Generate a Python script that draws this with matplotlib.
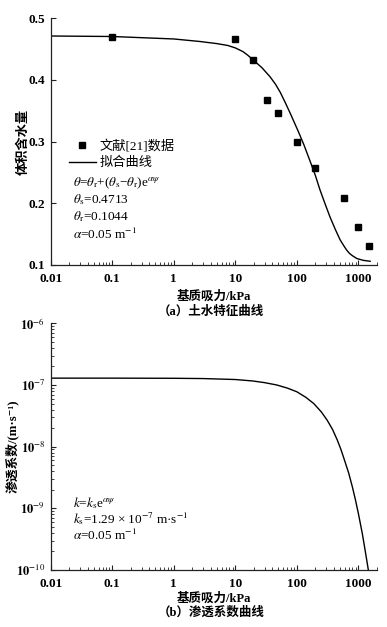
import matplotlib

matplotlib.use("Agg")
import matplotlib.pyplot as plt  # noqa: E402
from matplotlib.ticker import FixedLocator, LogLocator, NullFormatter, NullLocator  # noqa: E402

plt.rcParams["mathtext.fontset"] = "stix"

# (a) soil-water characteristic curve: measured points from ref [21]
suction_meas = [0.1, 10, 19.5, 33, 50, 100, 197, 590, 1000, 1500]
theta_meas = [0.469, 0.466, 0.432, 0.368, 0.347, 0.300, 0.257, 0.209, 0.161, 0.130]

# fitted curve
suction_fit = [0.01, 0.1, 1, 2.6, 5, 7.5, 10, 13.3, 16, 19.7, 27, 36.8, 45, 53.7, 65,
               78, 90, 105, 130, 163, 200, 237, 290, 345, 420, 503, 580, 646, 720,
               800, 941, 1200, 1550]
theta_fit = [0.4713, 0.4705, 0.4665, 0.4625, 0.459, 0.456, 0.452, 0.446, 0.440,
             0.432, 0.420, 0.405, 0.393, 0.380, 0.363, 0.346, 0.332, 0.317, 0.295,
             0.269, 0.245, 0.222, 0.198, 0.178, 0.158, 0.141, 0.131, 0.124, 0.1185,
             0.115, 0.1105, 0.1075, 0.1060]

# (b) permeability curve
suction_k = [0.01, 0.1, 1, 3, 10, 19.3, 30, 47, 70, 100, 140, 188, 250, 311, 380, 452,
             520, 577, 640, 697, 800, 898, 1000, 1157, 1300, 1450]
perm_k = [1.29e-7, 1.29e-7, 1.283e-7, 1.27e-7, 1.225e-7, 1.16e-7, 1.09e-7, 1.0e-7,
          8.9e-8, 7.75e-8, 6.3e-8, 5.0e-8, 3.65e-8, 2.68e-8, 1.9e-8, 1.29e-8, 9.0e-9,
          6.6e-9, 4.8e-9, 3.7e-9, 2.2e-9, 1.35e-9, 8.2e-10, 3.9e-10, 1.95e-10, 1.0e-10]

x_ticks = [0.01, 0.1, 1, 10, 100, 1000]
x_ticklabels = ["0.01", "0.1", "1", "10", "100", "1000"]
theta_ticks = [0.1, 0.2, 0.3, 0.4, 0.5]
theta_ticklabels = ["0.1", "0.2", "0.3", "0.4", "0.5"]
k_ticks = [1e-10, 1e-9, 1e-8, 1e-7, 1e-6]
k_ticklabels = [r"$\mathbf{10}^{\mathrm{-10}}$", r"$\mathbf{10}^{\mathrm{-9}}$",
                r"$\mathbf{10}^{\mathrm{-8}}$", r"$\mathbf{10}^{\mathrm{-7}}$",
                r"$\mathbf{10}^{\mathrm{-6}}$"]

SERIF = ["Liberation Serif", "Noto Sans CJK SC", "DejaVu Sans"]
CJK = ["Noto Sans CJK SC", "DejaVu Sans"]
TICK_FS = 9.5


def estilo_eixo(ax):
    ax.spines["top"].set_visible(False)
    ax.spines["right"].set_visible(False)
    for s in ("left", "bottom"):
        ax.spines[s].set_linewidth(0.9)
        ax.spines[s].set_color("#222222")
    ax.set_xscale("log")
    ax.set_xlim(0.01, 2000)
    ax.xaxis.set_major_locator(FixedLocator(x_ticks))
    ax.set_xticklabels(x_ticklabels)
    ax.xaxis.set_minor_locator(LogLocator(base=10, subs=range(2, 10), numticks=20))
    ax.xaxis.set_minor_formatter(NullFormatter())
    ax.tick_params(which="major", direction="in", length=3.5, width=0.8,
                   colors="#222222", labelcolor="black")
    ax.tick_params(axis="x", which="major", pad=6)
    ax.tick_params(axis="y", which="major", pad=4)
    ax.tick_params(which="minor", direction="in", length=2, width=0.6, colors="#222222")


def fonte_ticks(ax, size=TICK_FS):
    for lab in ax.get_xticklabels():
        lab.set_fontfamily(SERIF)
        lab.set_fontweight("bold")
        lab.set_fontsize(TICK_FS)
    for lab in ax.get_yticklabels():
        lab.set_fontfamily(SERIF)
        lab.set_fontweight("bold")
        lab.set_fontsize(size)


fig = plt.figure(figsize=(3.87, 6.27), dpi=100)
ax1 = fig.add_axes([0.131, 0.5774, 0.843, 0.3934])
ax2 = fig.add_axes([0.131, 0.0909, 0.843, 0.3935])

# ---- (a) 土水特征曲线
ax1.plot(suction_fit, theta_fit, color="black", lw=1.0, label="拟合曲线", zorder=2)
ax1.plot(suction_meas, theta_meas, ls="none", marker="s", ms=4.3, color="black",
         label="文献[21]数据", zorder=3)
estilo_eixo(ax1)
ax1.set_ylim(0.1, 0.5)
ax1.yaxis.set_major_locator(FixedLocator(theta_ticks))
ax1.set_yticklabels(theta_ticklabels)
ax1.yaxis.set_minor_locator(NullLocator())
fonte_ticks(ax1)

ax1.set_xlabel("基质吸力/kPa", family=SERIF, fontsize=9, fontweight="bold", va="center")
ax1.xaxis.set_label_coords(0.5, -0.128)
ax1.set_ylabel("体积含水量", family=CJK, fontsize=9.5, fontweight="bold", va="center")
ax1.yaxis.set_label_coords(-0.086, 0.5)

handles, labels = ax1.get_legend_handles_labels()
ax1.legend(handles[::-1], labels[::-1], loc="upper left",
           bbox_to_anchor=(0.057, 0.507), frameon=False, borderpad=0,
           borderaxespad=0, handlelength=2.0, handletextpad=0.3,
           labelspacing=0.32, prop={"family": SERIF, "size": 9.5})

txt = dict(transform=ax1.transAxes, fontsize=9.5, family="Liberation Serif",
           va="center", ha="left")
ax1.text(0.067, 0.331, r"$\theta$=$\theta_\mathrm{r}$+($\theta_\mathrm{s}$−$\theta_\mathrm{r}$)e$^{\alpha\psi}$", **txt)
ax1.text(0.067, 0.266, r"$\theta_\mathrm{s}$=0.4713", **txt)
ax1.text(0.067, 0.196, r"$\theta_\mathrm{r}$=0.1044", **txt)
ax1.text(0.067, 0.124, r"$\alpha$=0.05 m$^{\mathrm{-1}}$", **txt)

fig.text(0.545, 0.5024, "（a）土水特征曲线", family=SERIF, fontsize=9,
         fontweight="bold", ha="center", va="center")

# ---- (b) 渗透系数曲线
ax2.plot(suction_k, perm_k, color="black", lw=1.0)
ax2.set_yscale("log")
estilo_eixo(ax2)
ax2.set_ylim(1e-10, 1e-6)
ax2.yaxis.set_major_locator(FixedLocator(k_ticks))
ax2.set_yticklabels(k_ticklabels)
ax2.yaxis.set_minor_locator(LogLocator(base=10, subs=range(2, 10), numticks=20))
ax2.yaxis.set_minor_formatter(NullFormatter())
fonte_ticks(ax2, size=9)

ax2.set_xlabel("基质吸力/kPa", family=SERIF, fontsize=9, fontweight="bold", va="center")
ax2.xaxis.set_label_coords(0.5, -0.114)
ax2.set_ylabel("渗透系数/(m·s⁻¹)", family=SERIF, fontsize=9.2, fontweight="bold",
               va="center")
ax2.yaxis.set_label_coords(-0.12, 0.5)

txt2 = dict(txt, transform=ax2.transAxes)
ax2.text(0.067, 0.273, r"$k$=$k_\mathrm{s}$e$^{\alpha\psi}$", **txt2)
ax2.text(0.067, 0.207, r"$k_\mathrm{s}$=1.29 × 10$^{\mathrm{-7}}$ m·s$^{\mathrm{-1}}$", **txt2)
ax2.text(0.067, 0.140, r"$\alpha$=0.05 m$^{\mathrm{-1}}$", **txt2)

fig.text(0.545, 0.0223, "（b）渗透系数曲线", family=SERIF, fontsize=9,
         fontweight="bold", ha="center", va="center")

fig.savefig("out.png", dpi=100)
